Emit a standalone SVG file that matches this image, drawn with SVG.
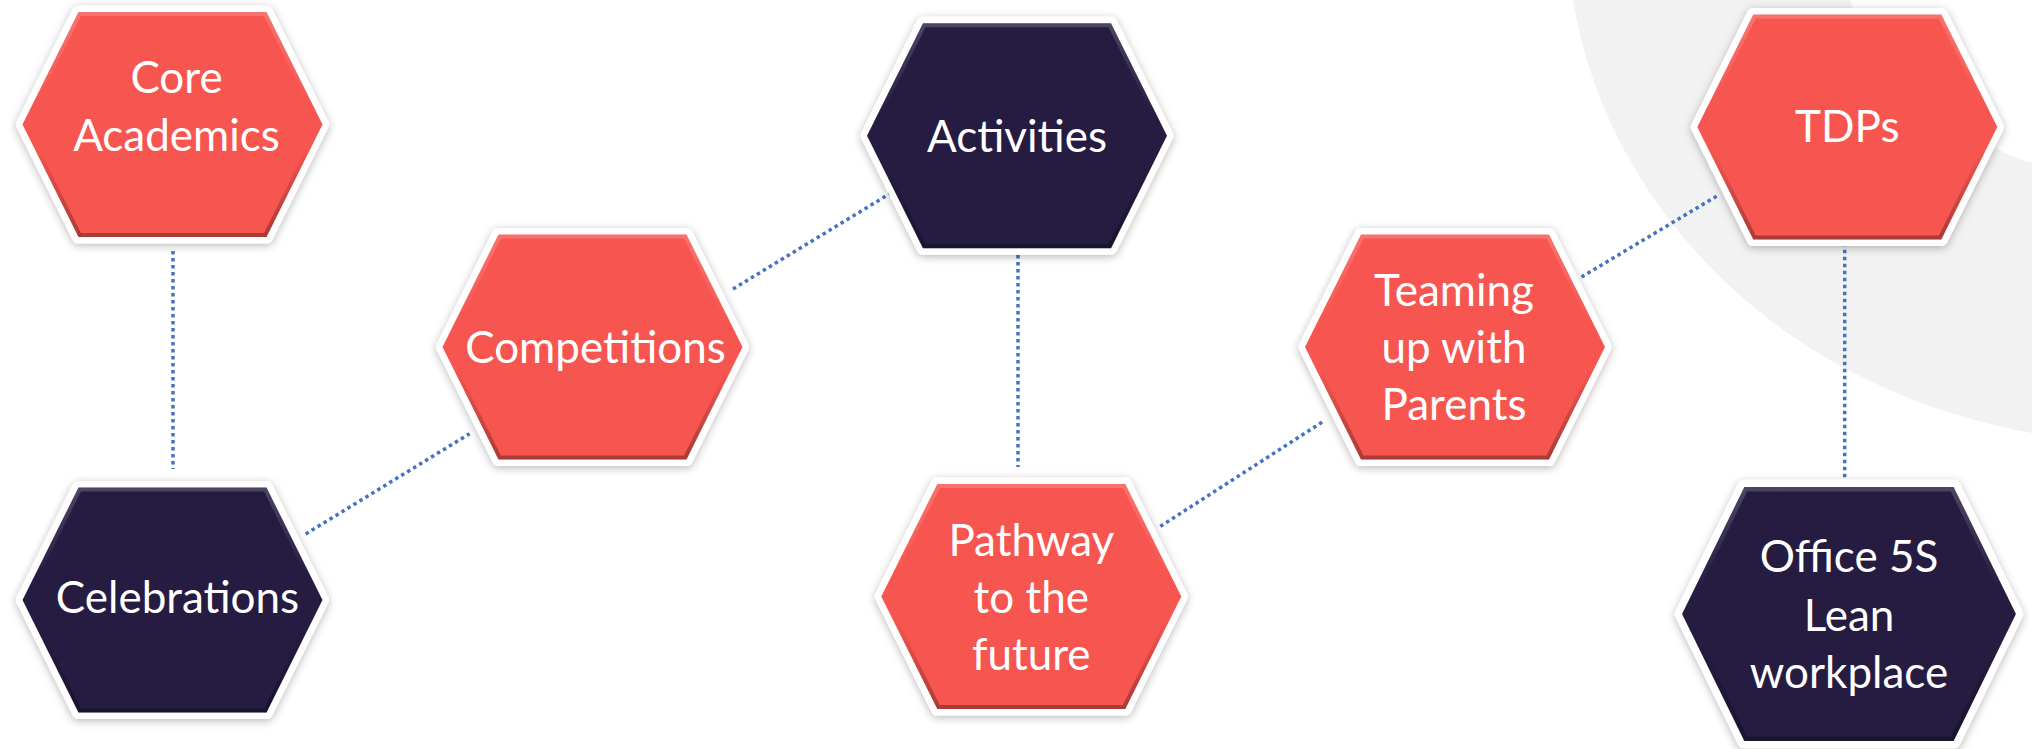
<svg xmlns="http://www.w3.org/2000/svg" width="2032" height="749" viewBox="0 0 2032 749">
<defs>
<style>
.hex-border{fill:#ffffff;stroke:#ffffff;stroke-width:13;stroke-linejoin:round;filter:url(#shadow)}
.red{fill:#F7554F}
.dark{fill:#261C41}
.bevel{fill:none;stroke:url(#bevelGrad);stroke-width:8;clip-path:url(#hexClip)}
.label{font-family:Lato,"Open Sans","Liberation Sans",sans-serif;font-size:44px;fill:#ffffff;text-anchor:middle}
.conn{stroke:#4472C4;stroke-width:3.5;stroke-dasharray:3.5 3.5;fill:none}
.bg{fill:#F2F2F2}
</style>
<polygon id="hex" points="-150,0 -94,-112.5 94,-112.5 150,0 94,112.5 -94,112.5"/>
<clipPath id="hexClip"><use href="#hex"/></clipPath>
<linearGradient id="bevelGrad" gradientUnits="userSpaceOnUse" x1="0" y1="-113" x2="0" y2="113">
<stop offset="0" stop-color="#ffffff" stop-opacity="0.18"/>
<stop offset="0.4" stop-color="#ffffff" stop-opacity="0"/>
<stop offset="0.6" stop-color="#000000" stop-opacity="0"/>
<stop offset="1" stop-color="#000000" stop-opacity="0.32"/>
</linearGradient>
<filter id="shadow" x="-20%" y="-20%" width="140%" height="140%">
<feDropShadow dx="0" dy="2" stdDeviation="4" flood-color="#000000" flood-opacity="0.28"/>
</filter>
</defs>
<rect width="2032" height="749" fill="#ffffff"/>
<path class="bg" d="M1573,0 C1606,200 1770,385 2032,433 L2032,163 C1960,140 1880,80 1850,0 Z"/>
<g id="connectors">
<line class="conn" x1="173" y1="251" x2="173" y2="469"/>
<line class="conn" x1="305.7" y1="534" x2="469.6" y2="433.7"/>
<line class="conn" x1="733" y1="289" x2="894.2" y2="191"/>
<line class="conn" x1="1018" y1="248" x2="1018" y2="467"/>
<line class="conn" x1="1160.3" y1="526.4" x2="1325" y2="420.3"/>
<line class="conn" x1="1581.5" y1="277" x2="1718.6" y2="195"/>
<line class="conn" x1="1844.7" y1="242.7" x2="1844.7" y2="482.5"/>
</g>
<g id="core-academics" transform="translate(172.5,124.5)">
<use href="#hex" class="hex-border"/><use href="#hex" class="red"/><use href="#hex" class="bevel"/>
<text class="label" x="4" y="-31.5">Core</text>
<text class="label" x="4" y="26">Academics</text>
</g>
<g id="celebrations" transform="translate(172.5,600)">
<use href="#hex" class="hex-border"/><use href="#hex" class="dark"/><use href="#hex" class="bevel"/>
<text class="label" x="5" y="12.5">Celebrations</text>
</g>
<g id="competitions" transform="translate(592.5,347)">
<use href="#hex" class="hex-border"/><use href="#hex" class="red"/><use href="#hex" class="bevel"/>
<text class="label" x="3" y="16">Competitions</text>
</g>
<g id="activities" transform="translate(1017,135.7)">
<use href="#hex" class="hex-border"/><use href="#hex" class="dark"/><use href="#hex" class="bevel"/>
<text class="label" x="0" y="16.3">Activities</text>
</g>
<g id="pathway" transform="translate(1031.3,596.5)">
<use href="#hex" class="hex-border"/><use href="#hex" class="red"/><use href="#hex" class="bevel"/>
<text class="label" x="0" y="-41">Pathway</text>
<text class="label" x="0" y="16.5">to the</text>
<text class="label" x="0" y="73.5">future</text>
</g>
<g id="teaming" transform="translate(1455,347)">
<use href="#hex" class="hex-border"/><use href="#hex" class="red"/><use href="#hex" class="bevel"/>
<text class="label" x="-1" y="-41.3">Teaming</text>
<text class="label" x="-1" y="16">up with</text>
<text class="label" x="-1" y="73.3">Parents</text>
</g>
<g id="tdps" transform="translate(1847.3,127)">
<use href="#hex" class="hex-border"/><use href="#hex" class="red"/><use href="#hex" class="bevel"/>
<text class="label" x="0" y="15.3">TDPs</text>
</g>
<g id="office-5s" transform="translate(1849,614)">
<g transform="scale(1.113,1.129)">
<use href="#hex" class="hex-border"/><use href="#hex" class="dark"/><use href="#hex" class="bevel"/>
</g>
<text class="label" x="0" y="-42">Office 5S</text>
<text class="label" x="0" y="16.5">Lean</text>
<text class="label" x="0" y="74">workplace</text>
</g>
</svg>
